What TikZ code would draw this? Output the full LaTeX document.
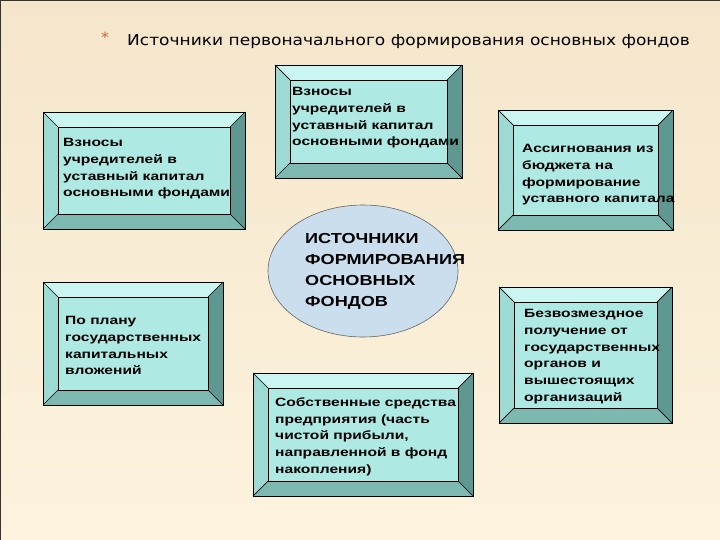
\documentclass[tikz,border=0pt]{standalone}
\usepackage{fontspec}
\usetikzlibrary{shapes.geometric}
\newfontfamily\boxfont[FakeStretch=1.3]{Liberation Sans}
\newfontfamily\centrefont[FakeStretch=1.25]{Liberation Sans}
\newfontfamily\titlefont[FakeStretch=1.135]{DejaVu Sans}
\definecolor{bgtop}{HTML}{F5E6CB}
\definecolor{bgbot}{HTML}{FDF3DE}
\definecolor{facec}{HTML}{AEEAE3}
\definecolor{bvtopc}{HTML}{CBF5F0}
\definecolor{bvleftc}{HTML}{9CDAD3}
\definecolor{bvrightc}{HTML}{5F9791}
\definecolor{bvbotc}{HTML}{7DB8B1}
\definecolor{ellc}{HTML}{CADEED}
\definecolor{starc}{HTML}{D0603A}
\tikzset{
  edge/.style={draw=black, line width=0.7pt},
  face/.style={rectangle, fill=facec, draw=black, line width=0.7pt, inner sep=0pt},
  txt/.style={anchor=north west, inner sep=0pt, align=left, font=\boxfont\bfseries\fontsize{12}{16.7}\selectfont},
  centre/.style={ellipse, fill=ellc, draw=black!60, line width=0.6pt, minimum width=190pt, minimum height=132pt, inner sep=0pt},
}
\newcommand\bevelpanel[5]{%
  \fill[bvtopc] (#2,#3) -- (#4,#3) -- (#4-15,#3+15) -- (#2+15,#3+15) -- cycle;
  \fill[bvbotc] (#2,#5) -- (#4,#5) -- (#4-15,#5-15) -- (#2+15,#5-15) -- cycle;
  \fill[bvleftc] (#2,#3) -- (#2+15,#3+15) -- (#2+15,#5-15) -- (#2,#5) -- cycle;
  \fill[bvrightc] (#4,#3) -- (#4-15,#3+15) -- (#4-15,#5-15) -- (#4,#5) -- cycle;
  \draw[edge] (#2,#3) rectangle (#4,#5);
  \draw[edge] (#2,#3) -- (#2+15,#3+15) (#4,#3) -- (#4-15,#3+15) (#2,#5) -- (#2+15,#5-15) (#4,#5) -- (#4-15,#5-15);
  \node[face, minimum width={#4-#2-30}, minimum height={#5-#3-30}] (#1) at ({(#2+#4)/2},{(#3+#5)/2}) {};
}
\begin{document}
\begin{tikzpicture}[x=1pt,y=-1pt]
\useasboundingbox (0,0) rectangle (720,540);
\shade[top color=bgtop, bottom color=bgbot] (0,0) rectangle (720,540);
\draw[black!80, line width=2pt] (0,540) -- (0,0) -- (720,0);

\node[anchor=center, inner sep=0pt, text=starc, font=\titlefont\fontsize{14}{14}\selectfont] (star) at (105,37) {*};
\node[anchor=base west, inner sep=0pt, font=\titlefont\fontsize{15}{17}\selectfont] (title) at (127,46) {Источники первоначального формирования основных фондов};

\bevelpanel{b1}{43}{112}{245}{229}
\bevelpanel{b2}{275}{65}{462}{178}
\bevelpanel{b3}{498}{110}{673}{230}
\bevelpanel{b4}{43}{282}{223}{405}
\bevelpanel{b5}{499}{287}{672}{423}
\bevelpanel{b6}{253}{373}{473}{496}

\node[centre] (c) at (363,271) {};

\node[txt] (t1) at (63,138.3) {Взносы\\учредителей в\\уставный капитал\\основными фондами};
\node[txt] (t2) at (292,87.3) {Взносы\\учредителей в\\уставный капитал\\основными фондами};
\node[txt] (t3) at (522,144.3) {Ассигнования из\\бюджета на\\формирование\\уставного капитала};
\node[txt] (t4) at (65,316.3) {По плану\\государственных\\капитальных\\вложений};
\node[txt] (t5) at (524,309.3) {Безвозмездное\\получение от\\государственных\\органов и\\вышестоящих\\организаций};
\node[txt] (t6) at (275,397.3) {Собственные средства\\предприятия (часть\\чистой прибыли,\\направленной в фонд\\накопления)};
\node[txt, font=\centrefont\bfseries\fontsize{14.5}{21}\selectfont] (tc) at (305,233.4) {ИСТОЧНИКИ\\ФОРМИРОВАНИЯ\\ОСНОВНЫХ\\ФОНДОВ};
\end{tikzpicture}
\end{document}
